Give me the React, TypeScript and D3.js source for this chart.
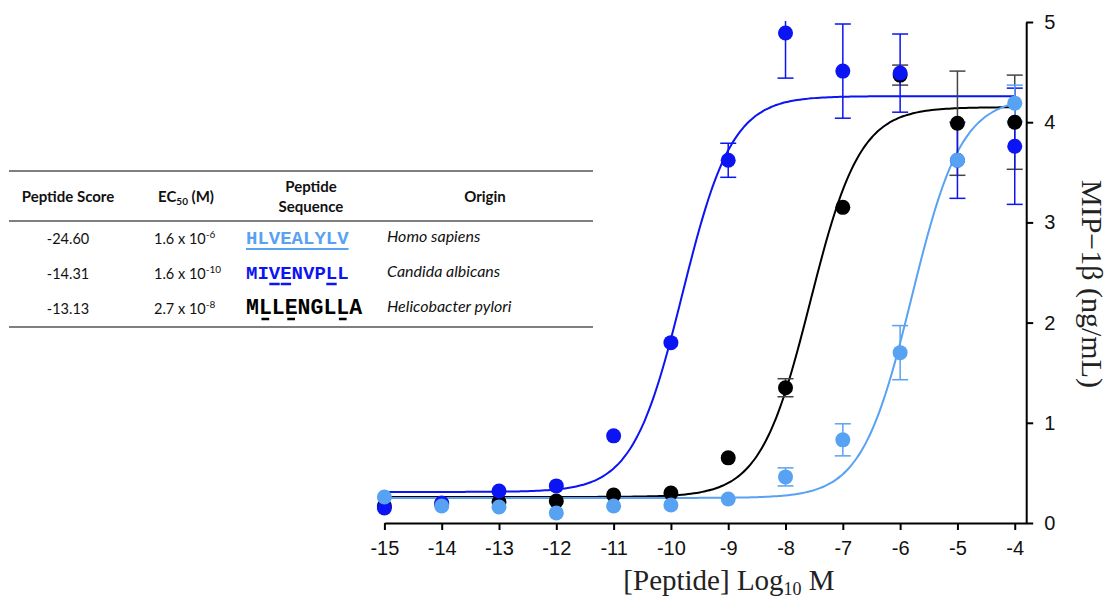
import React, { useRef, useEffect } from "react";
import * as d3 from "d3";

// log10 molar concentration of peptide
const logConc = [-15, -14, -13, -12, -11, -10, -9, -8, -7, -6, -5, -4];

// MIP-1b (ng/mL), mean and error per concentration
const humanMean = [0.26, 0.17, 0.16, 0.1, 0.17, 0.18, 0.24, 0.46, 0.83, 1.7, 3.62, 4.19];
const humanErr = [0, 0, 0, 0, 0, 0, 0, 0.09, 0.16, 0.27, 0, 0.18];
const candidaMean = [0.15, 0.2, 0.32, 0.37, 0.87, 1.8, 3.62, 4.89, 4.51, 4.49, 3.62, 3.76];
const candidaErr = [0, 0, 0, 0, 0, 0, 0.17, 0.45, 0.47, 0.39, 0.38, 0.58];
const pyloriMean = [0.17, 0.19, 0.21, 0.22, 0.28, 0.3, 0.65, 1.35, 3.15, 4.47, 3.99, 4.0];
const pyloriErr = [0, 0, 0, 0, 0, 0, 0, 0.09, 0, 0.1, 0.52, 0.47];

// fitted 4PL curves: bottom, top, logEC50, hill
const humanFit = [0.25, 4.25, -5.8, 1];
const candidaFit = [0.31, 4.26, -9.8, 1];
const pyloriFit = [0.26, 4.15, -7.57, 1];

const xTicks = [-15, -14, -13, -12, -11, -10, -9, -8, -7, -6, -5, -4];
const yTicks = [0, 1, 2, 3, 4, 5];

// table
const scores = ["-24.60", "-14.31", "-13.13"];
const ec50Base = ["1.6 x 10", "1.6 x 10", "2.7 x 10"];
const ec50Exp = ["-6", "-10", "-8"];
const sequences = ["HLVEALYLV", "MIVENVPLL", "MLLENGLLA"];
const underlined = [[0, 1, 2, 3, 4, 5, 6, 7, 8], [2, 3, 7], [1, 3, 7]];
const origins = ["Homo sapiens", "Candida albicans", "Helicobacter pylori"];

const BLUE = "#0b14f2";
const LIGHT = "#58a2f4";
const BLACK = "#000";

const series = [
  { mean: pyloriMean, err: pyloriErr, fit: pyloriFit, color: BLACK, errColor: "#444" },
  { mean: candidaMean, err: candidaErr, fit: candidaFit, color: BLUE, errColor: BLUE },
  { mean: humanMean, err: humanErr, fit: humanFit, color: LIGHT, errColor: LIGHT },
];

const x = d3.scaleLinear().domain([-15, -3.8]).range([384.4, 1026.2]);
const y = d3.scaleLinear().domain([0, 5]).range([523, 22]);

function logistic(fit: number[], v: number) {
  const [bottom, top, ec, h] = fit;
  return bottom + (top - bottom) / (1 + Math.pow(10, (ec - v) * h));
}

const curveX = d3.range(-15, -3.999, 0.05);
const line = d3
  .line<number>()
  .x(v => x(v))
  .curve(d3.curveMonotoneX);

const seqColors = [LIGHT, BLUE, BLACK];
const seqSizes = [19, 19, 21.5];
const rowY = [244, 279, 314];

function App() {
  const xAxisRef = useRef<SVGGElement>(null);
  const yAxisRef = useRef<SVGGElement>(null);

  useEffect(() => {
    const xa = d3
      .axisBottom(x)
      .tickValues(xTicks)
      .tickFormat(d => String(d))
      .tickSize(7)
      .tickSizeOuter(0)
      .tickPadding(11);
    d3.select(xAxisRef.current!).call(xa as any);
    const ya = d3
      .axisRight(y)
      .tickValues(yTicks)
      .tickFormat(d => String(d))
      .tickSize(7)
      .tickSizeOuter(0)
      .tickPadding(11);
    d3.select(yAxisRef.current!).call(ya as any);
    [xAxisRef.current, yAxisRef.current].forEach(g => {
      const s = d3.select(g!);
      s.attr("font-family", "'Liberation Sans', Arial, sans-serif").attr("font-size", 20);
      s.selectAll("path, line").attr("stroke", "#000").attr("stroke-width", 2);
      s.selectAll("text").attr("fill", "#111");
    });
  }, []);

  const tableFont = "Lato, 'Open Sans', sans-serif";

  return (
    <svg
      width={1114}
      height={600}
      style={{ position: "absolute", left: 0, top: 0, background: "#fff" }}
    >
      <defs>
        <clipPath id="plotClip">
          <rect x={370} y={21} width={700} height={520} />
        </clipPath>
      </defs>

      {/* fitted curves */}
      {series.map((s, i) => (
        <path
          key={"c" + i}
          d={line.y(v => y(logistic(s.fit, v)))(curveX) || ""}
          fill="none"
          stroke={s.color}
          strokeWidth={2}
        />
      ))}

      {/* error bars and points */}
      <g clipPath="url(#plotClip)">
        {series.map((s, i) => (
          <g key={"e" + i}>
            {logConc.map((c, j) =>
              s.err[j] > 0 ? (
                <g key={j} stroke={s.errColor} strokeWidth={1.5}>
                  <line x1={x(c)} x2={x(c)} y1={y(s.mean[j] - s.err[j])} y2={y(s.mean[j] + s.err[j])} />
                  <line x1={x(c) - 8} x2={x(c) + 8} y1={y(s.mean[j] - s.err[j])} y2={y(s.mean[j] - s.err[j])} />
                  <line x1={x(c) - 8} x2={x(c) + 8} y1={y(s.mean[j] + s.err[j])} y2={y(s.mean[j] + s.err[j])} />
                </g>
              ) : null
            )}
          </g>
        ))}
        {series.map((s, i) => (
          <g key={"p" + i}>
            {logConc.map((c, j) => (
              <circle key={j} cx={x(c)} cy={y(s.mean[j])} r={7.5} fill={s.color} />
            ))}
          </g>
        ))}
      </g>

      <g ref={xAxisRef} transform={`translate(0,${y(0)})`} />
      <g ref={yAxisRef} transform={`translate(${x(-3.8)},0)`} />

      <text
        x={729}
        y={590}
        textAnchor="middle"
        fontFamily="'Liberation Serif', 'Times New Roman', serif"
        fontSize={29}
        fill="#222"
      >
        [Peptide] Log
        <tspan fontSize={18} dy={5}>10</tspan>
        <tspan dy={-5}> M</tspan>
      </text>
      <text
        transform="translate(1082,284) rotate(90)"
        textAnchor="middle"
        fontFamily="'Liberation Serif', 'Times New Roman', serif"
        fontSize={30}
        fill="#222"
      >
        MIP−1β (ng/mL)
      </text>

      {/* table */}
      <g fontFamily={tableFont} fill="#111">
        <line x1={9} x2={593} y1={171} y2={171} stroke="#555" strokeWidth={1.6} />
        <line x1={9} x2={593} y1={221} y2={221} stroke="#555" strokeWidth={1.6} />
        <line x1={9} x2={593} y1={327} y2={327} stroke="#555" strokeWidth={1.6} />

        <g fontWeight="bold" fontSize={15} textAnchor="middle">
          <text x={68} y={202}>Peptide Score</text>
          <text x={186} y={202}>
            EC<tspan fontSize={10} dy={3}>50</tspan>
            <tspan dy={-3}> (M)</tspan>
          </text>
          <text x={311} y={192}>Peptide</text>
          <text x={311} y={212}>Sequence</text>
          <text x={485} y={202}>Origin</text>
        </g>

        {rowY.map((ry, i) => (
          <g key={i}>
            <text x={68} y={ry} fontSize={14.5} textAnchor="middle">
              {scores[i]}
            </text>
            <text x={154} y={ry} fontSize={14.5}>
              {ec50Base[i]}
              <tspan fontSize={10} dy={-6}>{ec50Exp[i]}</tspan>
            </text>
            <text
              x={246}
              y={ry}
              fontFamily="'Liberation Mono', 'Courier New', monospace"
              fontWeight="bold"
              fontSize={seqSizes[i]}
              fill={seqColors[i]}
            >
              {sequences[i]}
            </text>
            {i === 0 ? (
              <line
                x1={246}
                x2={246 + sequences[i].length * seqSizes[i] * 0.6}
                y1={ry + 5}
                y2={ry + 5}
                stroke={LIGHT}
                strokeWidth={2}
              />
            ) : (
              underlined[i].map(k => {
                const cw = seqSizes[i] * 0.6;
                const inset = i === 2 ? cw * 0.2 : 0.5;
                return (
                  <line
                    key={k}
                    x1={246 + k * cw + inset}
                    x2={246 + (k + 1) * cw - inset}
                    y1={ry + 5}
                    y2={ry + 5}
                    stroke={seqColors[i]}
                    strokeWidth={2.5}
                  />
                );
              })
            )}
            <text x={387} y={ry - 2} fontSize={16} fontStyle="italic">
              {origins[i]}
            </text>
          </g>
        ))}
      </g>
    </svg>
  );
}

export default App;
